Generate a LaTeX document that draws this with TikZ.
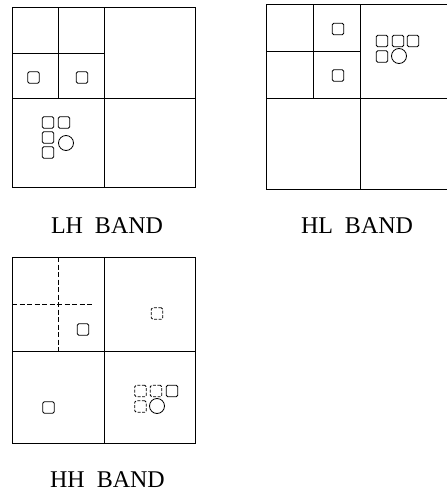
\documentclass[tikz,border=0pt]{standalone}
\usepackage{fontspec}
\setmainfont{Liberation Serif}
\begin{document}
\begin{tikzpicture}[x=1pt,y=-1pt,
  grid/.style={line width=0.8pt, black},
  dgrid/.style={line width=0.7pt, black, dash pattern=on 5pt off 2.5pt},
  cell/.style={draw, line width=0.8pt, minimum size=11.5pt, inner sep=0pt, rounded corners=1.5pt},
  dcell/.style={cell, dash pattern=on 3pt off 1.5pt},
  blob/.style={draw, circle, line width=0.8pt, minimum size=15pt, inner sep=0pt},
  lbl/.style={font=\fontsize{24}{28}\selectfont, anchor=base, inner sep=0pt}]
\useasboundingbox (0,0) rectangle (447,493);
% ---------- LH band ----------
\draw[grid] (12,7) rectangle (195,187);
\draw[grid] (104,7) -- (104,187);
\draw[grid] (12,98) -- (195,98);
\draw[grid] (58,7) -- (58,98);
\draw[grid] (12,53) -- (104,53);
\node[cell] (lh1) at (33.5,77.5) {};
\node[cell] (lh2) at (82,77.5) {};
\node[cell] (lhc1) at (48,122.5) {};
\node[cell] (lhc2) at (64,122.5) {};
\node[cell] (lhc3) at (48,137.5) {};
\node[blob] (lhc4) at (66,143) {};
\node[cell] (lhc5) at (48,152.5) {};
\node[lbl] (lhlabel) at (107,233) {LH\hspace{0.5em}BAND};
% ---------- HL band ----------
\draw[grid] (447,4) -- (266,4) -- (266,189) -- (447,189);
\draw[grid] (360,4) -- (360,189);
\draw[grid] (266,98) -- (447,98);
\draw[grid] (313,4) -- (313,98);
\draw[grid] (266,51) -- (360,51);
\node[cell] (hl1) at (338,29) {};
\node[cell] (hl2) at (338,75.5) {};
\node[cell] (hlc1) at (382,41) {};
\node[cell] (hlc2) at (398,41) {};
\node[cell] (hlc3) at (413,41) {};
\node[cell] (hlc4) at (382,56.5) {};
\node[blob] (hlc5) at (399,56) {};
\node[lbl] (hllabel) at (357,233) {HL\hspace{0.5em}BAND};
% ---------- HH band ----------
\draw[grid] (12,257) rectangle (195,443);
\draw[grid] (104,257) -- (104,443);
\draw[grid] (12,351) -- (195,351);
\draw[dgrid] (58,257) -- (58,351);
\draw[dgrid] (12,304) -- (92,304);
\node[cell] (hh1) at (83,329.5) {};
\node[dcell] (hh2) at (157,313.5) {};
\node[cell] (hh3) at (48.5,407.5) {};
\node[dcell] (hhc1) at (140.5,391) {};
\node[dcell] (hhc2) at (156,391) {};
\node[cell] (hhc3) at (172,391) {};
\node[dcell] (hhc4) at (140.5,406.5) {};
\node[blob] (hhc5) at (157,406) {};
\node[lbl] (hhlabel) at (107.5,487) {HH\hspace{0.5em}BAND};
\end{tikzpicture}
\end{document}
